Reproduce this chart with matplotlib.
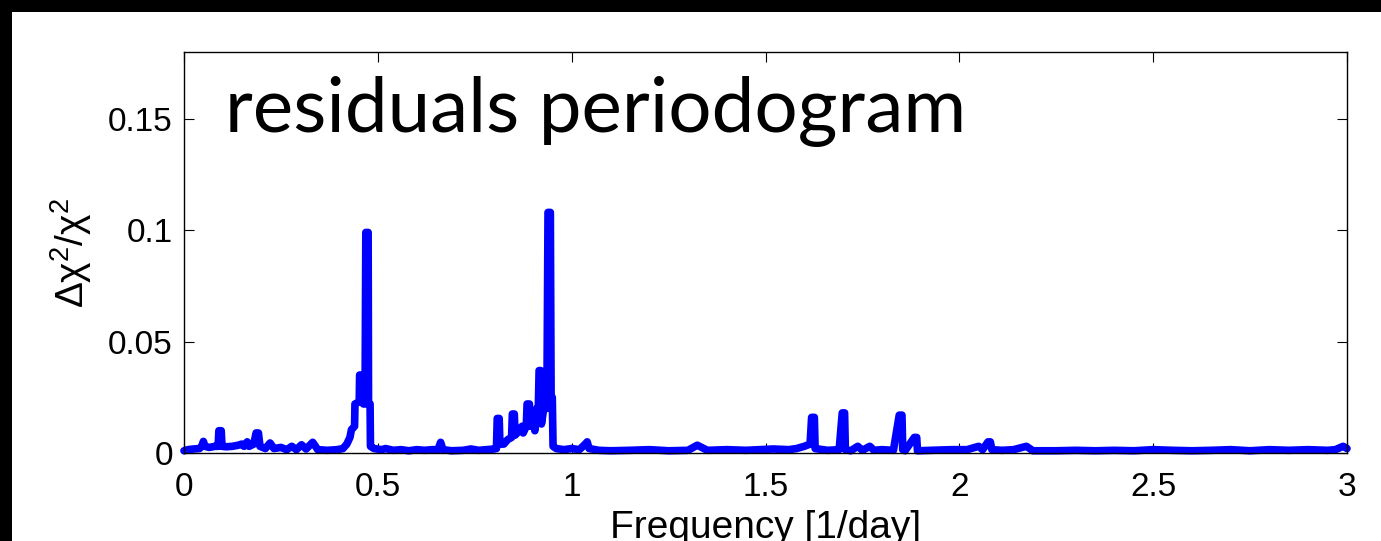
import numpy as np
import matplotlib
matplotlib.use('Agg')
import matplotlib.pyplot as plt
from matplotlib.patches import Rectangle

# frequency [1/day] and delta chi2 / chi2
freq = [0.000, 0.010, 0.025, 0.040, 0.046, 0.050, 0.054, 0.065, 0.080, 0.088,
        0.090, 0.096, 0.098, 0.110, 0.125, 0.140, 0.149, 0.155, 0.163, 0.168,
        0.180, 0.186, 0.192, 0.196, 0.210, 0.222, 0.232, 0.250, 0.265, 0.278,
        0.290, 0.303, 0.315, 0.332, 0.345, 0.370, 0.395, 0.410, 0.420, 0.428,
        0.432, 0.440, 0.441, 0.452, 0.453, 0.462, 0.463, 0.467, 0.469, 0.475,
        0.476, 0.480, 0.481, 0.490, 0.510, 0.520, 0.540, 0.560, 0.580, 0.600,
        0.620, 0.640, 0.655, 0.662, 0.668, 0.690, 0.720, 0.740, 0.760, 0.780,
        0.800, 0.806, 0.808, 0.813, 0.815, 0.825, 0.835, 0.845, 0.847, 0.852,
        0.854, 0.865, 0.872, 0.875, 0.883, 0.885, 0.891, 0.893, 0.900, 0.905,
        0.910, 0.914, 0.916, 0.920, 0.922, 0.928, 0.932, 0.936, 0.939, 0.945,
        0.947, 0.950, 0.952, 0.960, 0.980, 1.000, 1.020, 1.035, 1.040, 1.045,
        1.070, 1.100, 1.150, 1.200, 1.250, 1.300, 1.324, 1.350, 1.400, 1.450,
        1.520, 1.560, 1.580, 1.600, 1.615, 1.619, 1.626, 1.628, 1.660, 1.690,
        1.698, 1.704, 1.706, 1.720, 1.738, 1.750, 1.769, 1.780, 1.800, 1.830,
        1.845, 1.852, 1.854, 1.860, 1.884, 1.890, 1.892, 1.930, 1.980, 2.020,
        2.050, 2.060, 2.074, 2.080, 2.084, 2.110, 2.140, 2.173, 2.190, 2.250,
        2.300, 2.350, 2.400, 2.450, 2.500, 2.550, 2.600, 2.650, 2.700, 2.750,
        2.800, 2.850, 2.900, 2.950, 2.970, 2.990, 3.000]
power = [0.0010, 0.0015, 0.0018, 0.0020, 0.0030, 0.0052, 0.0030, 0.0025, 0.0030, 0.0030,
         0.0100, 0.0100, 0.0030, 0.0028, 0.0030, 0.0035, 0.0040, 0.0030, 0.0050, 0.0030,
         0.0040, 0.0090, 0.0090, 0.0030, 0.0020, 0.0045, 0.0020, 0.0025, 0.0015, 0.0030,
         0.0015, 0.0037, 0.0018, 0.0048, 0.0015, 0.0012, 0.0015, 0.0020, 0.0040, 0.0070,
         0.0105, 0.0120, 0.0220, 0.0230, 0.0350, 0.0350, 0.0220, 0.0220, 0.0990, 0.0990,
         0.0220, 0.0220, 0.0030, 0.0020, 0.0015, 0.0020, 0.0012, 0.0015, 0.0010, 0.0015,
         0.0012, 0.0015, 0.0015, 0.0048, 0.0015, 0.0010, 0.0012, 0.0018, 0.0012, 0.0015,
         0.0018, 0.0020, 0.0155, 0.0155, 0.0040, 0.0040, 0.0060, 0.0070, 0.0175, 0.0175,
         0.0080, 0.0100, 0.0120, 0.0090, 0.0120, 0.0220, 0.0220, 0.0120, 0.0160, 0.0100,
         0.0200, 0.0200, 0.0370, 0.0370, 0.0130, 0.0200, 0.0280, 0.0200, 0.1080, 0.1080,
         0.0250, 0.0250, 0.0030, 0.0020, 0.0015, 0.0020, 0.0015, 0.0040, 0.0050, 0.0020,
         0.0012, 0.0010, 0.0012, 0.0015, 0.0010, 0.0012, 0.0035, 0.0012, 0.0015, 0.0012,
         0.0018, 0.0015, 0.0020, 0.0030, 0.0040, 0.0160, 0.0160, 0.0020, 0.0012, 0.0015,
         0.0180, 0.0180, 0.0015, 0.0010, 0.0030, 0.0012, 0.0030, 0.0012, 0.0015, 0.0012,
         0.0170, 0.0170, 0.0015, 0.0010, 0.0070, 0.0070, 0.0010, 0.0012, 0.0015, 0.0015,
         0.0030, 0.0015, 0.0050, 0.0050, 0.0015, 0.0012, 0.0015, 0.0030, 0.0010, 0.0010,
         0.0012, 0.0010, 0.0012, 0.0010, 0.0015, 0.0012, 0.0010, 0.0012, 0.0015, 0.0010,
         0.0015, 0.0012, 0.0015, 0.0012, 0.0015, 0.0030, 0.0020]

xticks = [0, 0.5, 1, 1.5, 2, 2.5, 3]
xticklabels = ['0', '0.5', '1', '1.5', '2', '2.5', '3']
yticks = [0, 0.05, 0.1, 0.15]
yticklabels = ['0', '0.05', '0.1', '0.15']

plt.rcParams['font.family'] = ['Liberation Sans', 'DejaVu Sans']
plt.rcParams['mathtext.fontset'] = 'custom'
plt.rcParams['mathtext.rm'] = 'Liberation Sans'
plt.rcParams['mathtext.it'] = 'Liberation Sans:italic'

fig = plt.figure(figsize=(13.81, 5.41), dpi=100, facecolor='black')
# white page with black strip on top and left
fig.patches.append(Rectangle((12 / 1381, 0), 1, (541 - 12) / 541,
                             transform=fig.transFigure, facecolor='white',
                             edgecolor='none', zorder=-10))

ax = fig.add_axes([184 / 1381, 88 / 541, 1163 / 1381, 401 / 541])
ax.plot(freq, power, color='#0000ff', lw=5.5, solid_joinstyle='round',
        solid_capstyle='round', clip_on=False)

ax.set_xlim(0, 3)
ax.set_ylim(0, 0.18)
ax.set_xticks(xticks)
ax.set_xticklabels(xticklabels)
ax.set_yticks(yticks)
ax.set_yticklabels(yticklabels)
ax.tick_params(direction='in', length=7, width=0.8, labelsize=24,
               top=True, right=True)
ax.tick_params(axis='x', pad=14)
ax.tick_params(axis='y', pad=8)
for s in ax.spines.values():
    s.set_linewidth(1.0)

ax.set_xlabel('Frequency [1/day]', fontsize=28, labelpad=5)
ax.set_ylabel(r'$\mathrm{\Delta\chi}^2/\mathrm{\chi}^2$', fontsize=28, labelpad=10)

ax.text(0.035, 0.80, 'residuals periodogram', transform=ax.transAxes,
        fontsize=55, family=['Lato', 'DejaVu Sans'], va='baseline', ha='left')

fig.savefig('out.png', dpi=100)
